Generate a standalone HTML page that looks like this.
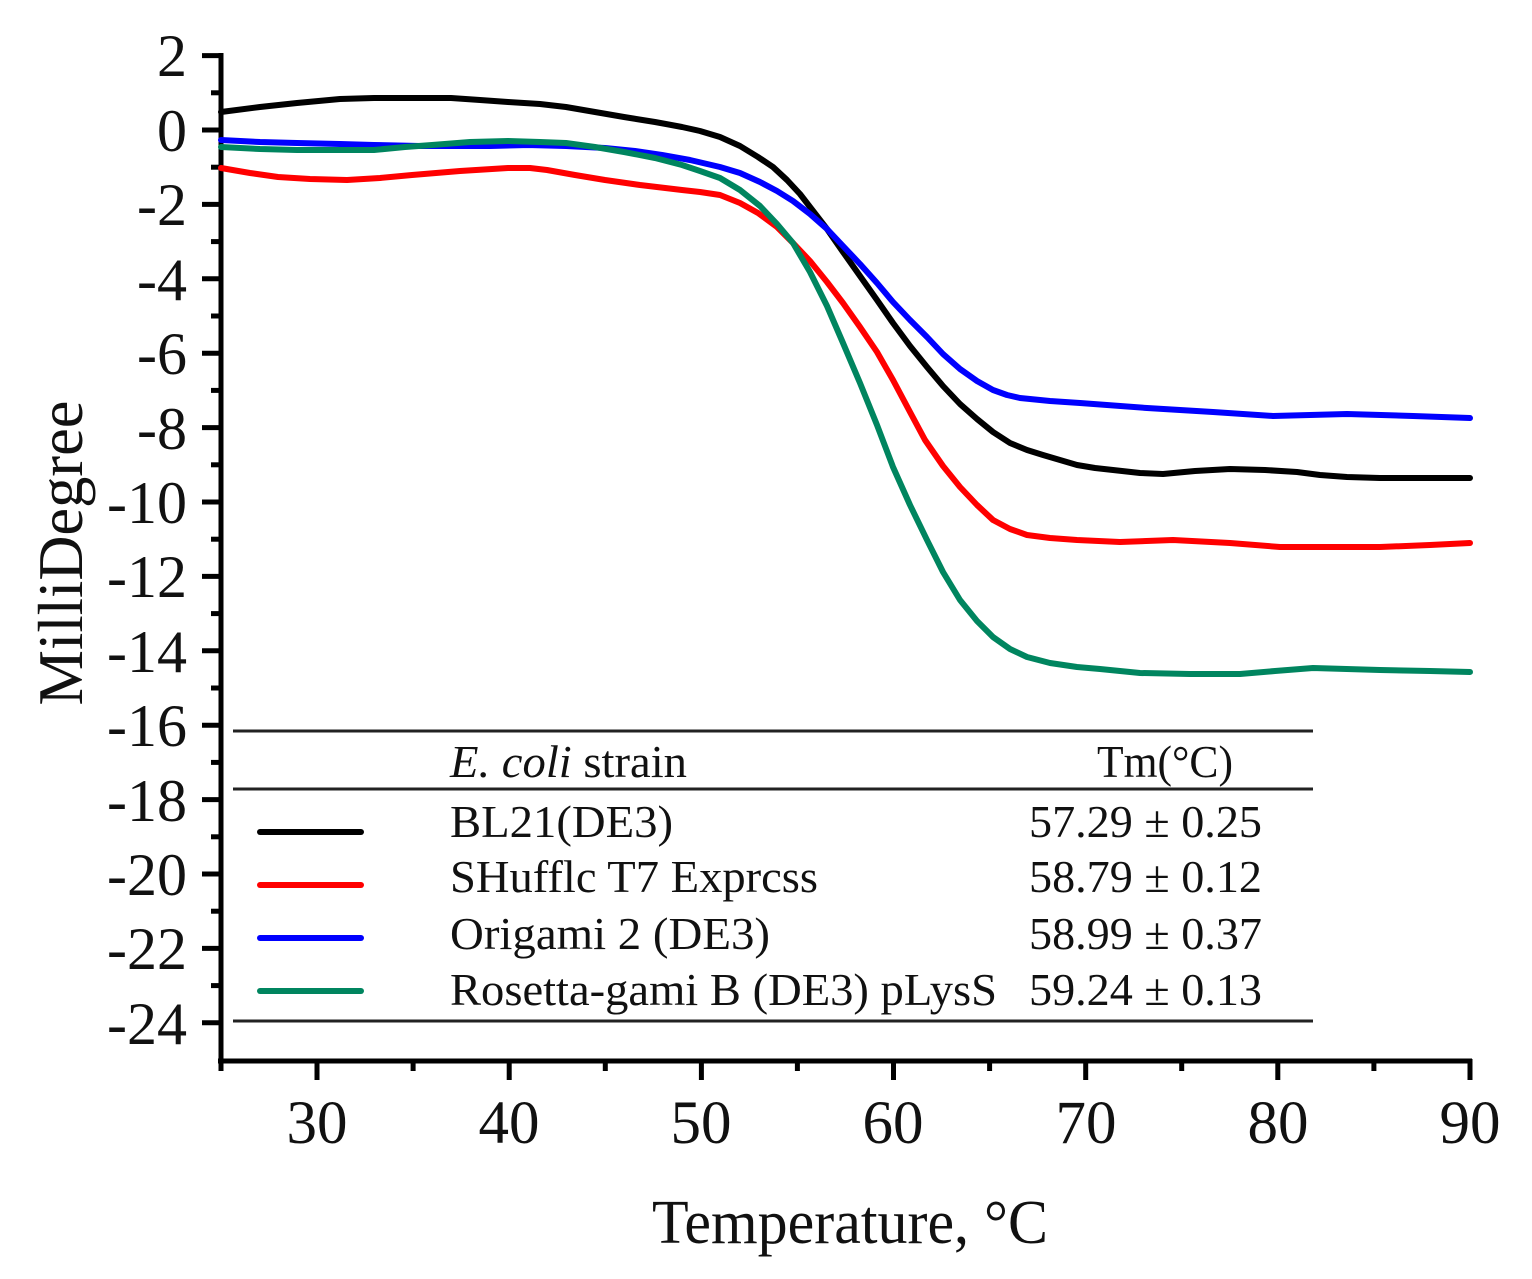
<!DOCTYPE html>
<html>
<head>
<meta charset="utf-8">
<style>
  html,body{margin:0;padding:0;background:#fff;}
  svg{display:block;}
  text{font-family:"Liberation Serif","Times New Roman",serif;fill:#111;}
</style>
</head>
<body>
<svg width="1532" height="1279" viewBox="0 0 1532 1279" xmlns="http://www.w3.org/2000/svg">
  <rect width="1532" height="1279" fill="#fff"/>

  <!-- Axes -->
  <g stroke="#000" stroke-width="5" fill="none">
    <line x1="221" y1="53" x2="221" y2="1064"/>
    <line x1="218" y1="1061" x2="1472" y2="1061"/>
    <!-- Y major ticks -->
    <line x1="202" y1="55.6" x2="221" y2="55.6"/>
    <line x1="202" y1="130" x2="221" y2="130"/>
    <line x1="202" y1="204.4" x2="221" y2="204.4"/>
    <line x1="202" y1="278.8" x2="221" y2="278.8"/>
    <line x1="202" y1="353.2" x2="221" y2="353.2"/>
    <line x1="202" y1="427.6" x2="221" y2="427.6"/>
    <line x1="202" y1="502" x2="221" y2="502"/>
    <line x1="202" y1="576.4" x2="221" y2="576.4"/>
    <line x1="202" y1="650.8" x2="221" y2="650.8"/>
    <line x1="202" y1="725.2" x2="221" y2="725.2"/>
    <line x1="202" y1="799.6" x2="221" y2="799.6"/>
    <line x1="202" y1="874" x2="221" y2="874"/>
    <line x1="202" y1="948.4" x2="221" y2="948.4"/>
    <line x1="202" y1="1022.8" x2="221" y2="1022.8"/>
    <!-- Y minor ticks -->
    <line x1="211" y1="92.8" x2="221" y2="92.8"/>
    <line x1="211" y1="167.2" x2="221" y2="167.2"/>
    <line x1="211" y1="241.6" x2="221" y2="241.6"/>
    <line x1="211" y1="316" x2="221" y2="316"/>
    <line x1="211" y1="390.4" x2="221" y2="390.4"/>
    <line x1="211" y1="464.8" x2="221" y2="464.8"/>
    <line x1="211" y1="539.2" x2="221" y2="539.2"/>
    <line x1="211" y1="613.6" x2="221" y2="613.6"/>
    <line x1="211" y1="688" x2="221" y2="688"/>
    <line x1="211" y1="762.4" x2="221" y2="762.4"/>
    <line x1="211" y1="836.8" x2="221" y2="836.8"/>
    <line x1="211" y1="911.2" x2="221" y2="911.2"/>
    <line x1="211" y1="985.6" x2="221" y2="985.6"/>
    <!-- X major ticks -->
    <line x1="317" y1="1061" x2="317" y2="1080"/>
    <line x1="509.2" y1="1061" x2="509.2" y2="1080"/>
    <line x1="701.4" y1="1061" x2="701.4" y2="1080"/>
    <line x1="893.5" y1="1061" x2="893.5" y2="1080"/>
    <line x1="1085.7" y1="1061" x2="1085.7" y2="1080"/>
    <line x1="1277.8" y1="1061" x2="1277.8" y2="1080"/>
    <line x1="1470" y1="1059" x2="1470" y2="1080"/>
    <!-- X minor ticks -->
    <line x1="221" y1="1061" x2="221" y2="1071"/>
    <line x1="413.1" y1="1061" x2="413.1" y2="1071"/>
    <line x1="605.3" y1="1061" x2="605.3" y2="1071"/>
    <line x1="797.4" y1="1061" x2="797.4" y2="1071"/>
    <line x1="989.6" y1="1061" x2="989.6" y2="1071"/>
    <line x1="1181.7" y1="1061" x2="1181.7" y2="1071"/>
    <line x1="1373.9" y1="1061" x2="1373.9" y2="1071"/>
  </g>

  <!-- Y tick labels -->
  <g font-size="60" text-anchor="end">
    <text x="187" y="76">2</text>
    <text x="187" y="151">0</text>
    <text x="187" y="225">-2</text>
    <text x="187" y="300">-4</text>
    <text x="187" y="374">-6</text>
    <text x="187" y="449">-8</text>
    <text x="187" y="523">-10</text>
    <text x="187" y="597">-12</text>
    <text x="187" y="672">-14</text>
    <text x="187" y="746">-16</text>
    <text x="187" y="821">-18</text>
    <text x="187" y="895">-20</text>
    <text x="187" y="969">-22</text>
    <text x="187" y="1044">-24</text>
  </g>

  <!-- X tick labels -->
  <g font-size="61" text-anchor="middle">
    <text x="317" y="1143">30</text>
    <text x="509" y="1143">40</text>
    <text x="701" y="1143">50</text>
    <text x="893" y="1143">60</text>
    <text x="1086" y="1143">70</text>
    <text x="1278" y="1143">80</text>
    <text x="1470" y="1143">90</text>
  </g>

  <!-- Axis titles -->
  <text x="850" y="1243" font-size="62" text-anchor="middle" textLength="396" lengthAdjust="spacingAndGlyphs">Temperature, °C</text>
  <text transform="translate(82,553) rotate(-90)" font-size="63" text-anchor="middle" textLength="305" lengthAdjust="spacingAndGlyphs">MilliDegree</text>

  <!-- Curves -->
  <g fill="none" stroke-width="6" stroke-linejoin="round" stroke-linecap="round">
    <polyline stroke="#000000" points="221,112 260,107 297,103 340,99 374,98 420,98 451,98 480,100 508,102 540,104 566,107 595,112 624,117 655,122 682,127 700,131 720,137 740,146 758,157 773,167 787,180 800,194 810,207 827,229 843,252 860,276 877,300 893,323 910,346 927,367 943,386 960,404 977,419 993,432 1010,443 1027,450 1043,455 1060,460 1077,465 1095,468 1113,470 1140,473 1163,474 1195,471 1230,469 1265,470 1297,472 1320,475 1347,477 1380,478 1413,478 1440,478 1470,478"/>
    <polyline stroke="#ff0000" points="221,168 250,173 278,177 310,179 347,180 380,178 412,175 460,171 508,168 530,168 547,170 575,175 605,180 640,185 682,190 700,192 720,195 740,203 758,213 777,227 793,243 810,261 827,282 843,303 860,327 877,352 893,380 910,412 925,440 943,466 960,487 977,505 993,520 1010,529 1027,535 1050,538 1077,540 1120,542 1173,540 1230,543 1280,547 1330,547 1380,547 1430,545 1470,543"/>
    <polyline stroke="#0000ff" points="221,140 260,142 297,143 340,144 374,145 420,146 451,146 490,146 528,145 566,146 605,148 635,151 662,155 690,160 720,167 740,173 760,182 777,191 793,201 810,214 827,229 843,246 860,264 877,283 893,302 910,320 927,337 943,354 960,369 977,381 993,390 1007,395 1020,398 1050,401 1080,403 1147,408 1213,412 1273,416 1347,414 1413,416 1470,418"/>
    <polyline stroke="#00855f" points="221,147 260,149 297,150 340,150 374,150 405,147 432,145 470,142 508,141 540,142 566,143 595,147 624,152 655,158 682,165 700,171 720,178 740,190 760,206 777,224 793,243 810,272 827,306 843,343 860,383 877,425 893,467 910,505 927,540 943,572 960,600 977,621 993,637 1010,649 1027,657 1050,663 1077,667 1100,669 1140,673 1190,674 1240,674 1275,671 1313,668 1380,670 1430,671 1470,672"/>
  </g>

  <!-- Legend table -->
  <g stroke="#222" stroke-width="3">
    <line x1="233" y1="731" x2="1313" y2="731"/>
    <line x1="233" y1="789" x2="1313" y2="789"/>
    <line x1="233" y1="1021" x2="1313" y2="1021"/>
  </g>
  <g stroke-width="6" stroke-linecap="round">
    <line x1="260" y1="832" x2="361" y2="832" stroke="#000"/>
    <line x1="260" y1="885" x2="361" y2="885" stroke="#ff0000"/>
    <line x1="260" y1="938" x2="361" y2="938" stroke="#0000ff"/>
    <line x1="260" y1="991" x2="361" y2="991" stroke="#00855f"/>
  </g>
  <g font-size="46">
    <text x="450" y="777" textLength="237" lengthAdjust="spacingAndGlyphs"><tspan font-style="italic">E. coli</tspan> strain</text>
    <text x="1097" y="777" textLength="136" lengthAdjust="spacingAndGlyphs">Tm(°C)</text>
    <text x="450" y="837" textLength="223" lengthAdjust="spacingAndGlyphs">BL21(DE3)</text>
    <text x="450" y="892" textLength="368" lengthAdjust="spacingAndGlyphs">SHufflc T7 Exprcss</text>
    <text x="450" y="949" textLength="320" lengthAdjust="spacingAndGlyphs">Origami 2 (DE3)</text>
    <text x="450" y="1005" textLength="547" lengthAdjust="spacingAndGlyphs">Rosetta-gami B (DE3) pLysS</text>
    <text x="1029" y="837" textLength="233" lengthAdjust="spacingAndGlyphs">57.29 ± 0.25</text>
    <text x="1029" y="892" textLength="233" lengthAdjust="spacingAndGlyphs">58.79 ± 0.12</text>
    <text x="1029" y="949" textLength="233" lengthAdjust="spacingAndGlyphs">58.99 ± 0.37</text>
    <text x="1029" y="1005" textLength="233" lengthAdjust="spacingAndGlyphs">59.24 ± 0.13</text>
  </g>
</svg>
</body>
</html>
